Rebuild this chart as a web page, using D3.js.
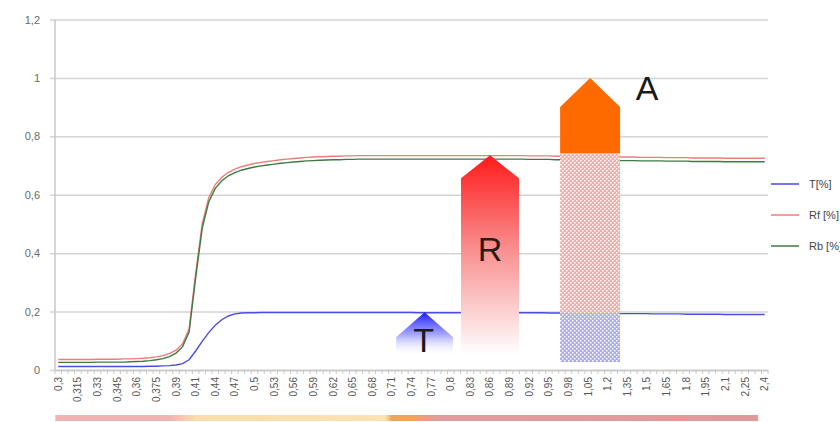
<!DOCTYPE html>
<html>
<head>
<meta charset="utf-8">
<script src="https://cdn.jsdelivr.net/npm/d3@7"></script>
<style>
  body { margin: 0; background: #fff; overflow: hidden; }
  svg { font-family: "Liberation Sans", Arial, sans-serif; }
</style>
</head>
<body>
<svg id="chart"></svg>
<script>
// wavelength categories (µm), as plotted on the category axis
var categories = [
  0.3, 0.305, 0.31, 0.315, 0.32, 0.325, 0.33, 0.335, 0.34, 0.345, 0.35, 0.355, 0.36, 0.365, 0.37, 0.375, 0.38, 0.385, 0.39, 0.395, 0.4,
  0.41, 0.42, 0.43, 0.44, 0.45, 0.46, 0.47, 0.48, 0.49, 0.5, 0.51, 0.52, 0.53, 0.54, 0.55, 0.56, 0.57, 0.58, 0.59, 0.6,
  0.61, 0.62, 0.63, 0.64, 0.65, 0.66, 0.67, 0.68, 0.69, 0.7, 0.71, 0.72, 0.73, 0.74, 0.75, 0.76, 0.77, 0.78, 0.79, 0.8,
  0.81, 0.82, 0.83, 0.84, 0.85, 0.86, 0.87, 0.88, 0.89, 0.9, 0.91, 0.92, 0.93, 0.94, 0.95, 0.96, 0.97, 0.98, 0.99, 1.0,
  1.05, 1.1, 1.15, 1.2, 1.25, 1.3, 1.35, 1.4, 1.45, 1.5, 1.55, 1.6, 1.65, 1.7, 1.75, 1.8, 1.85, 1.9, 1.95, 2.0,
  2.05, 2.1, 2.15, 2.2, 2.25, 2.3, 2.35, 2.4
];

// labelled categories (every third one)
var tickCategories = [0.3, 0.315, 0.33, 0.345, 0.36, 0.375, 0.39, 0.41, 0.44, 0.47, 0.5, 0.53, 0.56, 0.59, 0.62, 0.65,
  0.68, 0.71, 0.74, 0.77, 0.8, 0.83, 0.86, 0.89, 0.92, 0.95, 0.98, 1.05, 1.2, 1.35, 1.5, 1.65, 1.8, 1.95, 2.1, 2.25, 2.4];

var yTicks = [0, 0.2, 0.4, 0.6, 0.8, 1, 1.2];

var seriesNames = ["T[%]", "Rf [%]", "Rb [%]"];

var tValues = [
  0.012, 0.012, 0.012, 0.012, 0.012, 0.012, 0.012, 0.012, 0.012, 0.012,
  0.012, 0.012, 0.012, 0.012, 0.013, 0.013, 0.014, 0.015, 0.017, 0.022,
  0.035, 0.065, 0.098, 0.128, 0.153, 0.172, 0.185, 0.192, 0.195, 0.196,
  0.196, 0.197, 0.197, 0.197, 0.197, 0.197, 0.197, 0.197, 0.197, 0.197,
  0.197, 0.197, 0.197, 0.197, 0.197, 0.197, 0.197, 0.197, 0.197, 0.197,
  0.197, 0.197, 0.197, 0.197, 0.197, 0.196, 0.196, 0.196, 0.196, 0.196,
  0.196, 0.196, 0.196, 0.196, 0.196, 0.196, 0.196, 0.196, 0.196, 0.196,
  0.196, 0.196, 0.196, 0.196, 0.196, 0.195, 0.195, 0.195, 0.195, 0.195,
  0.195, 0.195, 0.194, 0.194, 0.194, 0.194, 0.193, 0.193, 0.193, 0.193,
  0.193, 0.192, 0.192, 0.192, 0.192, 0.192, 0.191, 0.191, 0.191, 0.191,
  0.191, 0.191, 0.190, 0.190, 0.190, 0.190, 0.190, 0.190, 0.190
];

var rfValues = [
  0.036, 0.036, 0.036, 0.036, 0.036, 0.036, 0.037, 0.037, 0.037, 0.037,
  0.038, 0.038, 0.039, 0.040, 0.042, 0.045, 0.049, 0.056, 0.068, 0.090,
  0.140, 0.330, 0.500, 0.590, 0.635, 0.660, 0.677, 0.688, 0.696, 0.702,
  0.707, 0.711, 0.714, 0.717, 0.720, 0.722, 0.724, 0.726, 0.728, 0.729,
  0.730, 0.731, 0.732, 0.732, 0.733, 0.733, 0.734, 0.734, 0.734, 0.734,
  0.734, 0.734, 0.734, 0.734, 0.734, 0.734, 0.734, 0.734, 0.734, 0.734,
  0.734, 0.734, 0.734, 0.734, 0.734, 0.734, 0.734, 0.734, 0.734, 0.734,
  0.734, 0.734, 0.733, 0.733, 0.733, 0.733, 0.732, 0.732, 0.732, 0.732,
  0.731, 0.731, 0.731, 0.730, 0.730, 0.730, 0.729, 0.729, 0.729, 0.728,
  0.728, 0.728, 0.728, 0.727, 0.727, 0.727, 0.727, 0.726, 0.726, 0.726,
  0.726, 0.726, 0.725, 0.725, 0.725, 0.725, 0.725, 0.725, 0.725
];

var rbValues = [
  0.026, 0.026, 0.026, 0.026, 0.026, 0.026, 0.027, 0.027, 0.027, 0.027,
  0.027, 0.028, 0.029, 0.030, 0.032, 0.035, 0.039, 0.046, 0.058, 0.080,
  0.130, 0.315, 0.485, 0.575, 0.622, 0.648, 0.665, 0.676, 0.684, 0.690,
  0.695, 0.699, 0.702, 0.705, 0.708, 0.710, 0.712, 0.714, 0.716, 0.717,
  0.718, 0.719, 0.720, 0.720, 0.721, 0.721, 0.722, 0.722, 0.722, 0.722,
  0.722, 0.722, 0.722, 0.722, 0.722, 0.722, 0.722, 0.722, 0.722, 0.722,
  0.722, 0.722, 0.722, 0.722, 0.722, 0.722, 0.722, 0.722, 0.722, 0.722,
  0.722, 0.722, 0.721, 0.721, 0.721, 0.721, 0.720, 0.720, 0.720, 0.720,
  0.719, 0.719, 0.719, 0.718, 0.718, 0.718, 0.717, 0.717, 0.717, 0.716,
  0.716, 0.716, 0.716, 0.715, 0.715, 0.715, 0.715, 0.714, 0.714, 0.714,
  0.714, 0.714, 0.713, 0.713, 0.713, 0.713, 0.713, 0.713, 0.713
];

var seriesColors = ["#4b4be6", "#ec7d78", "#3f7a45"];

// annotation arrows: letter, category where it stands, value of its tip
var arrowLetters = ["T", "R", "A"];
var arrowCats = [0.76, 0.86, 1.05];
var arrowTips = [0.198, 0.735, 1.0];

var width = 840, height = 422;
var svg = d3.select("#chart").attr("width", width).attr("height", height);

var x = d3.scaleBand().domain(categories).range([55, 768]).padding(0);
var y = d3.scaleLinear().domain([0, 1.2]).range([370, 19.5]);
function cx(c) { return x(c) + x.bandwidth() / 2; }
function fmt(v) { return String(v).replace(".", ","); }

var defs = svg.append("defs");

// ---------- gridlines and y axis ----------
var yAxis = svg.append("g")
  .attr("transform", "translate(55,0)")
  .call(d3.axisLeft(y).tickValues(yTicks).tickSize(-713).tickPadding(15).tickFormat(fmt));
yAxis.select(".domain").remove();
yAxis.selectAll(".tick line").attr("x1", -5).attr("stroke", "#d4d4d4").attr("stroke-width", 1.5);
yAxis.selectAll(".tick text").attr("fill", "#6a6a6a").attr("font-size", 11);

svg.append("line").attr("x1", 55).attr("x2", 55).attr("y1", y(1.2)).attr("y2", y(0))
  .attr("stroke", "#c8c8c8").attr("stroke-width", 1.5);

// ---------- x axis ----------
var xAxis = svg.append("g")
  .attr("transform", "translate(0," + y(0) + ")")
  .call(d3.axisBottom(x).tickValues(tickCategories).tickSize(0).tickFormat(fmt));
xAxis.select(".domain").attr("stroke", "#c8c8c8").attr("stroke-width", 1.5);
xAxis.selectAll(".tick text")
  .attr("transform", "rotate(-90)")
  .attr("x", -7).attr("y", 0).attr("dy", "0.35em")
  .attr("text-anchor", "end")
  .attr("fill", "#555").attr("font-size", 10);

// minor tick marks at every category boundary
svg.append("g").selectAll("line")
  .data(categories.concat(["end"]))
  .join("line")
  .attr("x1", function(d) { return d === "end" ? 768 : x(d); })
  .attr("x2", function(d) { return d === "end" ? 768 : x(d); })
  .attr("y1", y(0)).attr("y2", y(0) + 4)
  .attr("stroke", "#c8c8c8").attr("stroke-width", 1);

// ---------- series lines ----------
var allSeries = [tValues, rfValues, rbValues];
var line = d3.line()
  .x(function(d, i) { return cx(categories[i]); })
  .y(function(d) { return y(d); });

svg.append("g").selectAll("path")
  .data(allSeries)
  .join("path")
  .attr("d", line)
  .attr("fill", "none")
  .attr("stroke", function(d, i) { return seriesColors[i]; })
  .attr("stroke-width", 1.4);

// ---------- legend ----------
var legend = svg.append("g").selectAll("g")
  .data(seriesNames)
  .join("g")
  .attr("transform", function(d, i) { return "translate(771," + (184 + i * 31) + ")"; });
legend.append("line").attr("x1", 0).attr("x2", 28)
  .attr("stroke", function(d, i) { return seriesColors[i]; }).attr("stroke-width", 1.5);
legend.append("text").attr("x", 38).attr("dy", "0.35em")
  .attr("font-size", 11).attr("fill", "#444").text(function(d) { return d; });

// ---------- annotation arrows ----------
var tGrad = defs.append("linearGradient").attr("id", "gradT")
  .attr("gradientUnits", "userSpaceOnUse")
  .attr("x1", 0).attr("x2", 0).attr("y1", y(arrowTips[0])).attr("y2", y(arrowTips[0]) + 44);
tGrad.append("stop").attr("offset", 0).attr("stop-color", "#1a1aff");
tGrad.append("stop").attr("offset", 0.5).attr("stop-color", "#8c8cff").attr("stop-opacity", 0.8);
tGrad.append("stop").attr("offset", 1).attr("stop-color", "#ffffff").attr("stop-opacity", 0);

var rGrad = defs.append("linearGradient").attr("id", "gradR")
  .attr("gradientUnits", "userSpaceOnUse")
  .attr("x1", 0).attr("x2", 0).attr("y1", y(arrowTips[1])).attr("y2", y(0) - 15);
rGrad.append("stop").attr("offset", 0).attr("stop-color", "#ff1a1a");
rGrad.append("stop").attr("offset", 0.45).attr("stop-color", "#f98a8a");
rGrad.append("stop").attr("offset", 1).attr("stop-color", "#ffffff");

var hatchR = defs.append("pattern").attr("id", "hatchR")
  .attr("patternUnits", "userSpaceOnUse").attr("width", 4).attr("height", 4);
hatchR.append("rect").attr("width", 4).attr("height", 4).attr("fill", "#f8a9a9");
hatchR.append("rect").attr("x", 0).attr("y", 0).attr("width", 1.5).attr("height", 1.5).attr("fill", "#fff");
hatchR.append("rect").attr("x", 2).attr("y", 2).attr("width", 1.5).attr("height", 1.5).attr("fill", "#fff");

var hatchT = defs.append("pattern").attr("id", "hatchT")
  .attr("patternUnits", "userSpaceOnUse").attr("width", 4).attr("height", 4);
hatchT.append("rect").attr("width", 4).attr("height", 4).attr("fill", "#aaaaf6");
hatchT.append("rect").attr("x", 0).attr("y", 0).attr("width", 1.5).attr("height", 1.5).attr("fill", "#fff");
hatchT.append("rect").attr("x", 2).attr("y", 2).attr("width", 1.5).attr("height", 1.5).attr("fill", "#fff");

function arrowPath(c, tipY, headH, halfW, bottomY) {
  var mx = cx(c);
  return "M" + mx + "," + tipY +
    "L" + (mx + halfW) + "," + (tipY + headH) +
    "L" + (mx + halfW) + "," + bottomY +
    "L" + (mx - halfW) + "," + bottomY +
    "L" + (mx - halfW) + "," + (tipY + headH) + "Z";
}

var ann = svg.append("g");

// T arrow
ann.append("path")
  .attr("d", arrowPath(arrowCats[0], y(arrowTips[0]), 25, 28.5, y(arrowTips[0]) + 42))
  .attr("fill", "url(#gradT)");
ann.append("text").attr("x", cx(arrowCats[0]) - 1).attr("y", y(arrowTips[0]) + 40)
  .attr("text-anchor", "middle").attr("font-size", 34).attr("fill", "#1a1a1a").text(arrowLetters[0]);

// R arrow
ann.append("path")
  .attr("d", arrowPath(arrowCats[1], y(arrowTips[1]), 23, 29, y(0) - 15))
  .attr("fill", "url(#gradR)");
ann.append("text").attr("x", cx(arrowCats[1])).attr("y", y(0.372))
  .attr("text-anchor", "middle").attr("font-size", 34).attr("fill", "#2a1a1a").text(arrowLetters[1]);

// A arrow: stacked T + R + A
var aX = cx(arrowCats[2]) + 2;
var aT = tValues[categories.indexOf(arrowCats[2])];
ann.append("rect").attr("x", aX - 30).attr("width", 60)
  .attr("y", y(aT)).attr("height", y(0) - 8 - y(aT))
  .attr("fill", "url(#hatchT)");
ann.append("rect").attr("x", aX - 30).attr("width", 60)
  .attr("y", y(arrowTips[1]) - 2)
  .attr("height", y(aT) - y(arrowTips[1]) + 2)
  .attr("fill", "url(#hatchR)");
ann.append("path")
  .attr("d", "M" + aX + "," + y(arrowTips[2]) +
    "L" + (aX + 30) + "," + (y(arrowTips[2]) + 29) +
    "L" + (aX + 30) + "," + (y(arrowTips[1]) - 2) +
    "L" + (aX - 30) + "," + (y(arrowTips[1]) - 2) +
    "L" + (aX - 30) + "," + (y(arrowTips[2]) + 29) + "Z")
  .attr("fill", "#ff6a00");
ann.append("text").attr("x", aX + 57).attr("y", y(arrowTips[2]) + 22)
  .attr("text-anchor", "middle").attr("font-size", 34).attr("fill", "#1a1a1a").text(arrowLetters[2]);

// ---------- spectrum band under the axis ----------
var bandGrad = defs.append("linearGradient").attr("id", "gradBand")
  .attr("gradientUnits", "userSpaceOnUse")
  .attr("x1", cx(0.3) - 3).attr("x2", cx(2.35)).attr("y1", 0).attr("y2", 0);
var bandStops = [
  [0.3, "#f2b3b3"], [0.385, "#f2b3b3"], [0.41, "#fcdcaa"], [0.7, "#fde2b4"],
  [0.71, "#eba462"], [0.74, "#eba462"], [0.78, "#e19c9c"], [2.35, "#e09a9a"]
];
var bx0 = cx(0.3) - 3, bx1 = cx(2.35);
bandStops.forEach(function(s) {
  bandGrad.append("stop").attr("offset", (cx(s[0]) - bx0) / (bx1 - bx0)).attr("stop-color", s[1]);
});
svg.append("rect").attr("x", bx0).attr("width", bx1 - bx0)
  .attr("y", 415).attr("height", 6).attr("fill", "url(#gradBand)");
</script>
</body>
</html>
